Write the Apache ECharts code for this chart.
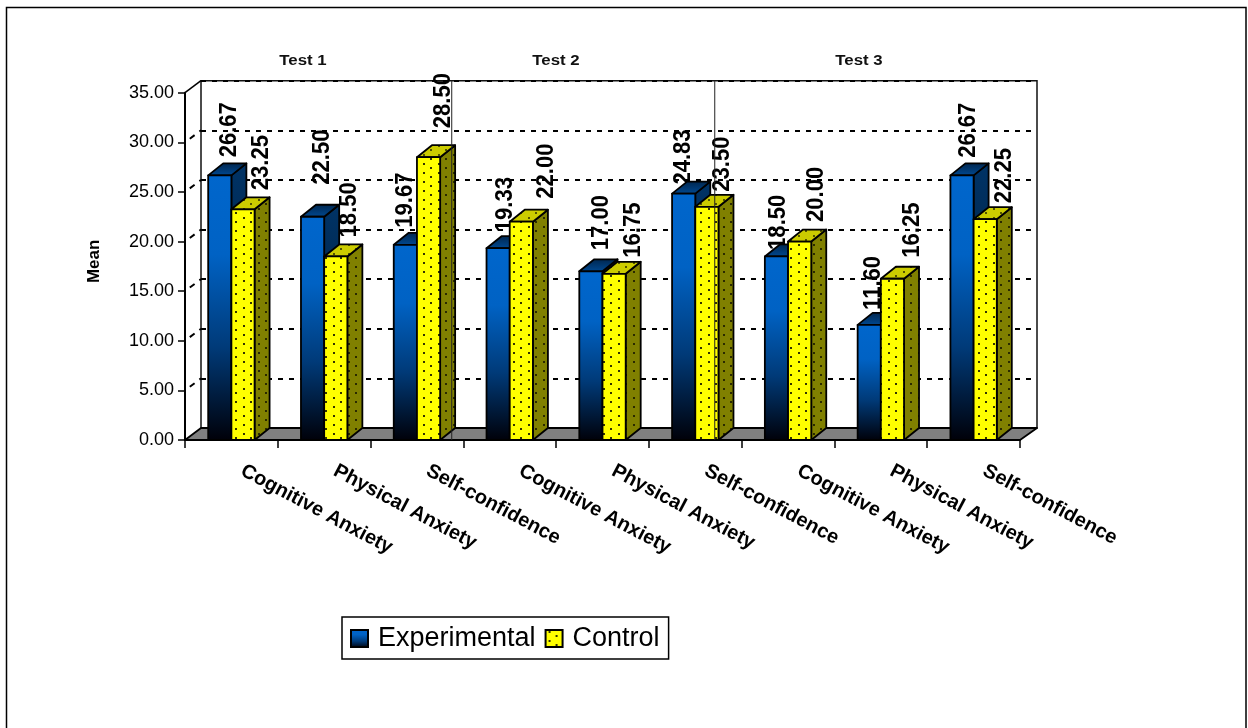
<!DOCTYPE html>
<html>
<head>
<meta charset="utf-8">
<style>html,body{margin:0;background:#fff;overflow:hidden}#chart{width:1248px;height:728px}</style>
<script src="https://cdn.jsdelivr.net/npm/echarts@6/dist/echarts.min.js"></script>
</head>
<body>
<div id="chart"></div>
<script>
// Mean scores per measure across three tests
const categories = ['Cognitive Anxiety','Physical Anxiety','Self-confidence',
                    'Cognitive Anxiety','Physical Anxiety','Self-confidence',
                    'Cognitive Anxiety','Physical Anxiety','Self-confidence'];
const experimental = [26.67,22.50,19.67,19.33,17.00,24.83,18.50,11.60,26.67];
const control      = [23.25,18.50,28.50,22.00,16.75,23.50,20.00,16.25,22.25];
const testNames = ['Test 1','Test 2','Test 3'];
const yTicks = [0,5,10,15,20,25,30,35];

// Hand placement of the value labels: [sideways shift, lift above the bar]
const expLabelNudge = [[9.5,18],[9.5,32],[0,17],[7.6,16],[10.5,21],[0,9],[2,6.5],[4,15],[6,17.5]];
const ctlLabelNudge = [[18,19],[14,19],[14.5,29],[25.5,23],[19,16],[15,15],[17,19.5],[20,21],[19.6,16]];
// Dividers between the test groups, in category-band units
const dividers = [2.875, 5.71];

const DEPTH_X = 16, DEPTH_Y = 12, BAR_DEPTH_X = 15;
const FRONT = {left:185, right:1020, top:92.7, bottom:440};
const G = echarts.graphic;

function dotTile(bg, dot) {
  const c = document.createElement('canvas');
  c.width = 15; c.height = 9;
  const x = c.getContext('2d');
  x.fillStyle = bg; x.fillRect(0,0,15,9);
  x.fillStyle = dot;
  x.fillRect(3,1,2,2);
  x.fillRect(10,5,2,2);
  return {image:c, repeat:'repeat'};
}
const vGrad = (stops) => new G.LinearGradient(0,0,0,1,stops.map(s=>({offset:s[0],color:s[1]})));
const blueFront = vGrad([[0,'#0066cc'],[0.3,'#0062c4'],[0.65,'#003a78'],[1,'#000008']]);
const blueSide  = vGrad([[0,'#003366'],[0.5,'#002448'],[1,'#000004']]);
const blueTop   = new G.LinearGradient(0,1,0,0,[{offset:0,color:'#004a94'},{offset:1,color:'#00254c'}]);
const yellowFront = dotTile('#ffff00','#333300');
const yellowSide  = dotTile('#808000','#2a2a00');
const yellowTop   = dotTile('#cccc00','#555500');

function poly(points, fill, z2) {
  return {type:'polygon', shape:{points}, z2:z2||1,
          style:{fill, stroke:'#000', lineWidth:1.8, lineJoin:'round'}};
}

function barRenderer(isExp, nudge) {
  return function (params, api) {
    const i = api.value(0), v = api.value(1);
    const top = api.coord([i, v]), base = api.coord([i, 0]);
    const w = api.size([1,0])[0] / 4;
    const x0 = isExp ? top[0] - w : top[0];
    const x1 = x0 + w, yT = top[1], yB = base[1];
    const [dx, lift] = nudge[i];
    const children = [
      {type:'text', z2:0, rotation:Math.PI/2, scaleX:0.92, x:x0+w/2+dx, y:yT-lift,
       style:{text:v.toFixed(2), fill:'#000', align:'left', verticalAlign:'middle',
              font:'bold 24px "Liberation Sans"'}},
      poly([[x1,yT],[x1+BAR_DEPTH_X,yT-DEPTH_Y],[x1+BAR_DEPTH_X,yB-DEPTH_Y],[x1,yB]], isExp?blueSide:yellowSide),
      poly([[x0,yT],[x0+BAR_DEPTH_X,yT-DEPTH_Y],[x1+BAR_DEPTH_X,yT-DEPTH_Y],[x1,yT]], isExp?blueTop:yellowTop),
      poly([[x0,yT],[x1,yT],[x1,yB],[x0,yB]], isExp?blueFront:yellowFront)
    ];
    return {type:'group', children};
  };
}

// Grey floor and the dashed lines running over the left wall
function shellRenderer(params, api) {
  const bw = api.size([1,0])[0];
  const a = api.coord([0,0]), xL = a[0]-bw/2, xR = xL+bw*categories.length, y0 = a[1];
  const children = [
    poly([[xL,y0],[xL+DEPTH_X,y0-DEPTH_Y],[xR+DEPTH_X+1,y0-DEPTH_Y],[xR,y0]], '#808080')
  ];
  yTicks.forEach(t => {
    if (t === 0) return;
    const y = api.coord([0,t])[1];
    children.push({type:'line', shape:{x1:xL,y1:y,x2:xL+DEPTH_X,y2:y-DEPTH_Y},
      style: t === 35 ? {stroke:'#000', lineWidth:1.5}
                      : {stroke:'#000', lineWidth:2, lineDash:[6,6], lineDashOffset:6}});
  });
  return {type:'group', children};
}

function dividerRenderer(params, api) {
  const bw = api.size([1,0])[0];
  const xL = api.coord([0,0])[0]-bw/2;
  const x = xL + api.value(0)*bw;
  const top = api.coord([0,35])[1]-DEPTH_Y, bottom = api.coord([0,0])[1];
  return {type:'line', z2:30, shape:{x1:x,y1:top,x2:x,y2:bottom},
          style:{stroke:'#222', lineWidth:1}};
}

const chart = echarts.init(document.getElementById('chart'), null, {renderer:'canvas'});
const NUM_FONT = '"Liberation Sans"';
chart.setOption({
  animation:false,
  backgroundColor:'#fff',
  textStyle:{fontFamily:NUM_FONT},
  grid:[
    {left:FRONT.left, width:FRONT.right-FRONT.left, top:FRONT.top, height:FRONT.bottom-FRONT.top},
    {left:FRONT.left+DEPTH_X, width:FRONT.right-FRONT.left+1, top:FRONT.top-DEPTH_Y, height:FRONT.bottom-FRONT.top,
     show:true, borderColor:'#111', borderWidth:1.5, backgroundColor:'#fff'}
  ],
  xAxis:[
    {type:'category', gridIndex:0, data:categories,
     axisLine:{show:true,lineStyle:{color:'#000',width:1.5}},
     axisTick:{show:true,alignWithLabel:false,length:8,lineStyle:{color:'#000',width:1.5}},
     splitLine:{show:false},
     axisLabel:{interval:0,rotate:-28,align:'left',verticalAlign:'middle',margin:24,padding:[0,0,0,12],
                color:'#000',fontWeight:'bold',fontSize:20,fontFamily:NUM_FONT}},
    {type:'category', gridIndex:1, data:categories, show:false}
  ],
  yAxis:[
    {type:'value', gridIndex:0, min:0, max:35, interval:5, name:'Mean', nameLocation:'middle', nameGap:82,
     nameTextStyle:{color:'#000',fontWeight:'bold',fontSize:17,fontFamily:NUM_FONT,padding:[0,0,0,10]},
     axisLine:{show:true,onZero:false,lineStyle:{color:'#000',width:2}},
     axisTick:{show:true,length:7,lineStyle:{color:'#000',width:1.5}},
     splitLine:{show:false},
     axisLabel:{margin:11,color:'#000',fontSize:18,fontFamily:NUM_FONT,formatter:v=>v.toFixed(2)}},
    {type:'value', gridIndex:1, min:0, max:35, interval:5,
     axisLine:{show:false}, axisTick:{show:false}, axisLabel:{show:false},
     splitLine:{show:true,lineStyle:{color:'#000',width:2,type:[5,6]}}}
  ],
  legend:{
    left:342, top:617, orient:'horizontal', padding:[8,9,7,8], itemGap:9, itemWidth:17, itemHeight:17,
    icon:'rect',
    borderColor:'#000', borderWidth:1.5, backgroundColor:'#fff',
    textStyle:{color:'#000',fontSize:27,fontFamily:NUM_FONT,padding:[0,0,0,5]},
    data:['Experimental','Control']
  },
  graphic:{elements:[
    {type:'rect', x:6.5, y:7.5, z:-1, silent:true, shape:{width:1239.5,height:740},
     style:{fill:'none',stroke:'#000',lineWidth:1.5}},
    ...testNames.map((t,i)=>({type:'text', z:10, x:[303,556,859][i], y:61, scaleX:1.2,
       style:{text:t, fill:'#111', align:'center', verticalAlign:'middle', font:'bold 14px "Liberation Sans"'}}))
  ]},
  series:[
    {type:'custom', name:'shell', z:1, xAxisIndex:0, yAxisIndex:0, silent:true, clip:false,
     renderItem:shellRenderer, data:[[0,0]], encode:{x:0,y:1}},
    {type:'custom', name:'Experimental', z:2, xAxisIndex:0, yAxisIndex:0, clip:false,
     itemStyle:{color:blueFront,borderColor:'#000',borderWidth:1.5},
     renderItem:barRenderer(true,expLabelNudge), encode:{x:0,y:1},
     data:experimental.map((v,i)=>[i,v])},
    {type:'custom', name:'Control', z:3, xAxisIndex:0, yAxisIndex:0, clip:false,
     itemStyle:{color:yellowFront,borderColor:'#000',borderWidth:1.5},
     renderItem:barRenderer(false,ctlLabelNudge), encode:{x:0,y:1},
     data:control.map((v,i)=>[i,v])},
    {type:'custom', name:'dividers', z:4, xAxisIndex:0, yAxisIndex:0, silent:true, clip:false,
     renderItem:dividerRenderer, data:dividers.map(d=>[d,0]), encode:{x:-1,y:1}}
  ]
});
</script>
</body>
</html>
